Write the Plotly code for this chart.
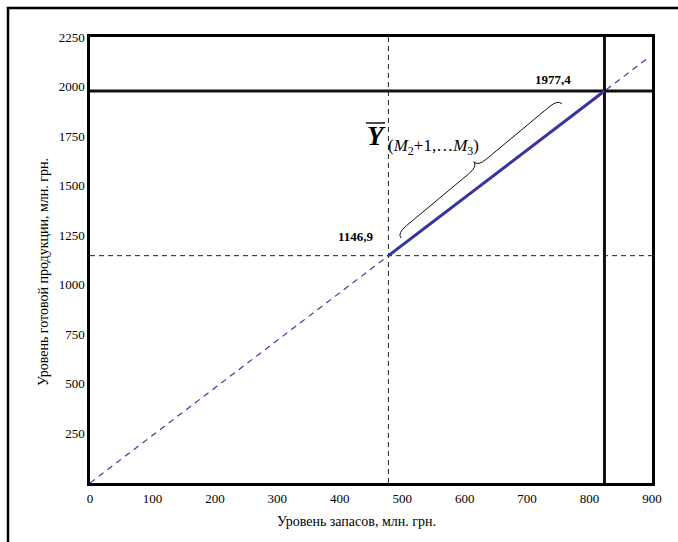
import plotly.graph_objects as go
import math

# ---- data ----
x_ticks = [0, 100, 200, 300, 400, 500, 600, 700, 800, 900]
y_ticks = [250, 500, 750, 1000, 1250, 1500, 1750, 2000, 2250]
diag_x = [0, 893]
diag_y = [0, 2143]
seg_x = [477.9, 823.9]
seg_y = [1146.9, 1977.4]
label_low = "1146,9"
label_high = "1977,4"
x_title = "Уровень запасов, млн. грн."
y_title = "Уровень готовой продукции, млн. грн."

W, H = 678, 542
L, R, T, B = 90, 26, 37, 59
PW, PH = W - L - R, H - T - B
FONT = "Liberation Serif"


def px2paper(px, py):
    return (px - L) / PW, (H - B - py) / PH


fig = go.Figure()
fig.add_trace(go.Scatter(x=diag_x, y=diag_y, mode="lines",
                         line=dict(color="#3a3aa6", width=1.2, dash="6px,5px"),
                         showlegend=False, hoverinfo="skip"))
fig.add_trace(go.Scatter(x=seg_x, y=seg_y, mode="lines",
                         line=dict(color="#3535a0", width=3),
                         showlegend=False, hoverinfo="skip"))

shapes = []
shapes.append(dict(type="line", xref="x", yref="y", x0=0, x1=900, y0=seg_y[0], y1=seg_y[0],
                   line=dict(color="#222", width=1, dash="5px,4px"), layer="below"))
shapes.append(dict(type="line", xref="x", yref="y", x0=seg_x[0], x1=seg_x[0], y0=0, y1=2250,
                   line=dict(color="#222", width=1, dash="5px,4px"), layer="below"))
shapes.append(dict(type="line", xref="x", yref="y", x0=0, x1=900, y0=seg_y[1], y1=seg_y[1],
                   line=dict(color="#111", width=3), layer="below"))
shapes.append(dict(type="line", xref="x", yref="y", x0=seg_x[1], x1=seg_x[1], y0=0, y1=2250,
                   line=dict(color="#111", width=3), layer="below"))

# brace (decoration) in pixel space -> paper
P1 = (401, 238)
P2 = (562, 104)
dx, dy = P2[0] - P1[0], P2[1] - P1[1]
Lb = math.hypot(dx, dy)
u = (dx / Lb, dy / Lb)
n = (u[1], -u[0])
if n[0] > 0:
    n = (-n[0], -n[1])
h = 6.0
q = 12.0


def loc(s, t):
    px = P1[0] + u[0] * s + n[0] * t
    py = P1[1] + u[1] * s + n[1] * t
    x, y = px2paper(px, py)
    return f"{x:.5f},{y:.5f}"


m = Lb / 2
path = (f"M {loc(0,0)} Q {loc(0,h)} {loc(q,h)} L {loc(m-q,h)} Q {loc(m,h)} {loc(m,2*h)} "
        f"Q {loc(m,h)} {loc(m+q,h)} L {loc(Lb-q,h)} Q {loc(Lb,h)} {loc(Lb,0)}")
shapes.append(dict(type="path", xref="paper", yref="paper", path=path,
                   line=dict(color="#111", width=1)))

# overline for Y
ox0, oy = px2paper(366, 123)
ox1, _ = px2paper(385, 123)
shapes.append(dict(type="line", xref="paper", yref="paper", x0=ox0, x1=ox1, y0=oy, y1=oy,
                   line=dict(color="#111", width=1.5)))

# outer frame
fx0, fy0 = px2paper(8, 8)
fx1, fy1 = px2paper(700, 560)
shapes.append(dict(type="rect", xref="paper", yref="paper", x0=fx0, x1=fx1, y0=fy1, y1=fy0,
                   line=dict(color="#000", width=2.5)))


def ann(px, py, text, size, xanchor="center", angle=0):
    x, y = px2paper(px, py)
    return dict(xref="paper", yref="paper", x=x, y=y, text=text, showarrow=False,
                xanchor=xanchor, yanchor="middle", textangle=angle,
                font=dict(family=FONT, size=size, color="#000"))


annotations = [
    ann(356, 237, f"<b>{label_low}</b>", 13),
    ann(553, 79, f"<b>{label_high}</b>", 13),
    ann(376, 136, "<b><i>Y</i></b>", 27),
    ann(386, 147, "(<i>M</i><sub>2</sub>+1,…<i>M</i><sub>3</sub>)", 17, xanchor="left"),
    ann(356, 521, x_title, 14),
    ann(43, 272, y_title, 14, angle=-90),
]

fig.update_layout(
    width=W, height=H,
    margin=dict(l=L, r=R, t=T, b=B, autoexpand=False),
    paper_bgcolor="white", plot_bgcolor="white",
    shapes=shapes, annotations=annotations,
    font=dict(family=FONT, size=13, color="#000"),
)
fig.update_xaxes(range=[0, 900], tickvals=x_ticks, ticktext=[str(v) for v in x_ticks],
                 showgrid=False, zeroline=False, showline=True, linecolor="#000",
                 linewidth=2.5, mirror=True, ticks="", ticklabelstandoff=2)
fig.update_yaxes(range=[0, 2250], tickvals=y_ticks, ticktext=[str(v) for v in y_ticks],
                 showgrid=False, zeroline=False, showline=True, linecolor="#000",
                 linewidth=2.5, mirror=True, ticks="")

fig.write_html("out.html")
